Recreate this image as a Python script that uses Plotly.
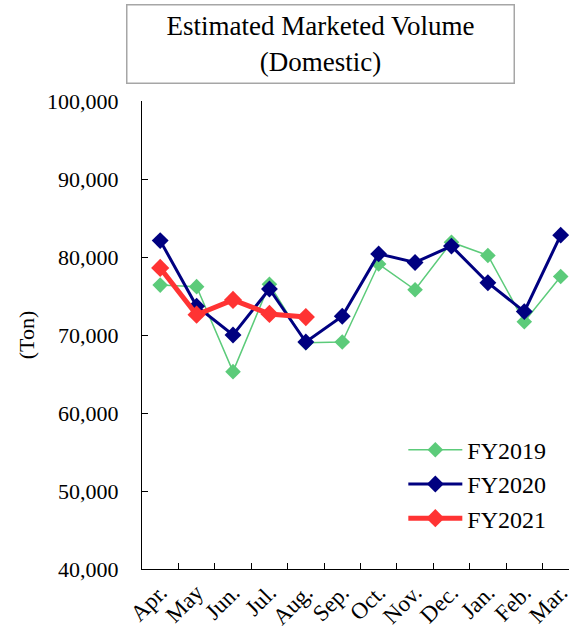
import plotly.graph_objects as go

months = ["Apr.", "May", "Jun.", "Jul.", "Aug.", "Sep.", "Oct.", "Nov.", "Dec.", "Jan.", "Feb.", "Mar."]
fy2019 = [76400, 76200, 65300, 76500, 69000, 69100, 79100, 75800, 81900, 80200, 71700, 77500]
fy2020 = [82100, 73700, 70000, 75900, 69100, 72400, 80400, 79300, 81400, 76700, 73000, 82800]
fy2021 = [78600, 72600, 74500, 72700, 72300]

FONT = "Liberation Serif"

fig = go.Figure()
fig.add_trace(go.Scatter(x=months, y=fy2019, name="FY2019", mode="lines+markers",
                         line=dict(color="#5ccb7a", width=1.5),
                         marker=dict(symbol="diamond", size=12, color="#5ccb7a")))
fig.add_trace(go.Scatter(x=months, y=fy2020, name="FY2020", mode="lines+markers",
                         line=dict(color="#000080", width=3),
                         marker=dict(symbol="diamond", size=13, color="#000080")))
fig.add_trace(go.Scatter(x=months[:len(fy2021)], y=fy2021, name="FY2021", mode="lines+markers",
                         line=dict(color="#ff3333", width=5),
                         marker=dict(symbol="diamond", size=14, color="#ff3333")))

fig.update_layout(
    width=572, height=630,
    margin=dict(l=142, r=0, t=101, b=60, pad=0),
    paper_bgcolor="white", plot_bgcolor="white",
    font=dict(family=FONT, size=22, color="black"),
    showlegend=True,
    legend=dict(x=0.612, y=0.302, xanchor="left", yanchor="top",
                bgcolor="rgba(0,0,0,0)", font=dict(family=FONT, size=24),
                itemwidth=54, tracegroupgap=0),
    xaxis=dict(type="category", categoryorder="array", categoryarray=months,
               range=[-0.5, 11.228], showline=True, linecolor="black", linewidth=1,
               ticks="inside", ticklen=6, tickcolor="black", tickson="boundaries",
               tickangle=-45, showgrid=False, zeroline=False,
               tickfont=dict(family=FONT, size=23)),
    yaxis=dict(range=[40000, 100000], dtick=10000, tickformat=",d",
               showline=True, linecolor="black", linewidth=1,
               ticks="inside", ticklen=6, tickcolor="black",
               showgrid=False, zeroline=False, ticklabelstandoff=18,
               tickfont=dict(family=FONT, size=22),
               title=dict(text="(Ton)", standoff=6, font=dict(family=FONT, size=22))),
    annotations=[dict(text="Estimated Marketed Volume<br>(Domestic)",
                      xref="paper", yref="paper", x=0.419, y=1.1227,
                      xanchor="center", yanchor="middle", showarrow=False,
                      width=386, height=77, align="center",
                      bordercolor="#a6a6a6", borderwidth=1.5, borderpad=0,
                      bgcolor="white", font=dict(family=FONT, size=27, color="black"))],
)

fig.write_html("out.html")
